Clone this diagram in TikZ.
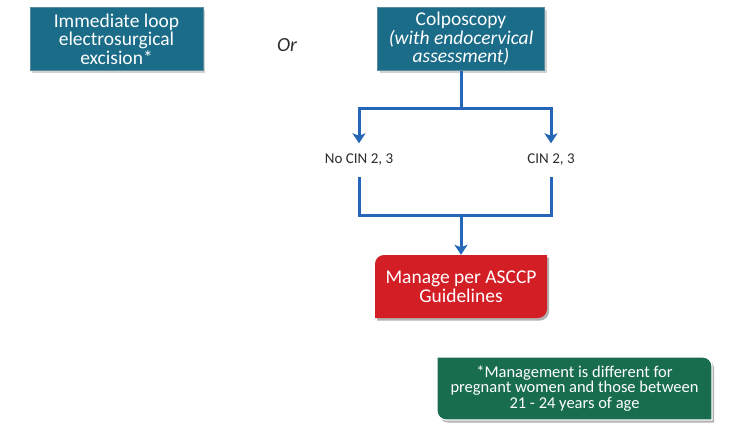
\documentclass[tikz,border=0pt]{standalone}
\usepackage{fontspec}
\setmainfont{Carlito}
\usetikzlibrary{arrows.meta,shadows}
\definecolor{tealbox}{RGB}{26,108,136}
\definecolor{tealedge}{RGB}{90,140,160}
\definecolor{redbox}{RGB}{211,30,38}
\definecolor{greenbox}{RGB}{25,109,79}
\definecolor{lineblue}{RGB}{38,102,184}
\definecolor{labelgray}{RGB}{45,45,45}
\newcommand\pathTLBR[5]{(#1,#2+#5) .. controls (#1,#2+0.45*#5) and (#1+0.45*#5,#2) .. (#1+#5,#2) -- (#3,#2) -- (#3,#4-#5) .. controls (#3,#4-0.45*#5) and (#3-0.45*#5,#4) .. (#3-#5,#4) -- (#1,#4) -- cycle}
\newcommand\pathTRBL[5]{(#1,#2) -- (#3-#5,#2) .. controls (#3-0.45*#5,#2) and (#3,#2+0.45*#5) .. (#3,#2+#5) -- (#3,#4) -- (#1+#5,#4) .. controls (#1+0.45*#5,#4) and (#1,#4-0.45*#5) .. (#1,#4-#5) -- cycle}
\begin{document}
\begin{tikzpicture}[x=1pt,y=-1pt,
  tealnode/.style={draw=tealedge,line width=0.8pt,fill=tealbox,text=white,align=center,
    minimum width=167pt,minimum height=63pt,inner sep=0pt,
    font=\fontsize{19.5}{18.5}\selectfont,
    drop shadow={shadow xshift=2pt,shadow yshift=-2.5pt,opacity=0.35}},
  plainbox/.style={text=white,align=center,inner sep=0pt},
  cinlabel/.style={text=labelgray,font=\fontsize{15}{16}\selectfont,text height=10pt,text depth=3pt,inner ysep=10pt,inner xsep=0pt},
  conn/.style={draw=lineblue,line width=3pt},
  arrowconn/.style={conn,-{Stealth[length=10pt,width=13pt,inset=2.5pt]}},
  shadowfill/.style={fill=black,opacity=0.3}]
\fill[white] (0,0) rectangle (743,429);
\useasboundingbox (0,0) rectangle (743,429);

% top boxes
\node[tealnode,minimum width=173pt] (loop) at (116.5,39) {Immediate loop\\electrosurgical\\excision*};
\node[font=\itshape\fontsize{20}{20}\selectfont,text=labelgray] (or) at (287,45) {Or};
\node[tealnode] (colp) at (461,39) {Colposcopy\\\textit{(with endocervical}\\\textit{assessment)}};

% outcome labels
\node[cinlabel] (nocin) at (359,160) {No CIN 2, 3};
\node[cinlabel] (cin) at (551,160) {CIN 2, 3};

% red box shape
\fill[shadowfill,xshift=2pt,yshift=-2.5pt] \pathTLBR{375}{255}{547}{318}{9};
\fill[redbox] \pathTLBR{375}{255}{547}{318}{9};
\node[plainbox,minimum width=172pt,minimum height=63pt,font=\fontsize{19.5}{18.5}\selectfont] (manage) at (461,286.5) {Manage per ASCCP\\Guidelines};

% green note shape
\fill[shadowfill,xshift=2pt,yshift=-2.5pt] \pathTRBL{437}{357}{712}{420}{9};
\fill[greenbox,draw=white,line width=1.2pt] \pathTRBL{437}{357}{712}{420}{9};
\node[plainbox,minimum width=275pt,minimum height=63pt,font=\fontsize{16.5}{15.8}\selectfont] (note) at (574.5,388.5) {*Management is different for\\pregnant women and those between\\21 - 24 years of age};

% connectors
\coordinate (split) at (461,108);
\coordinate (merge) at (461,215);
\draw[conn] (colp.south) -- (split);
\draw[arrowconn] (split) -| (nocin.north);
\draw[arrowconn] (split) -| (cin.north);
\draw[conn] (nocin.south) |- (merge);
\draw[conn] (cin.south) |- (merge);
\draw[arrowconn] (merge) -- (manage.north);
\end{tikzpicture}
\end{document}
